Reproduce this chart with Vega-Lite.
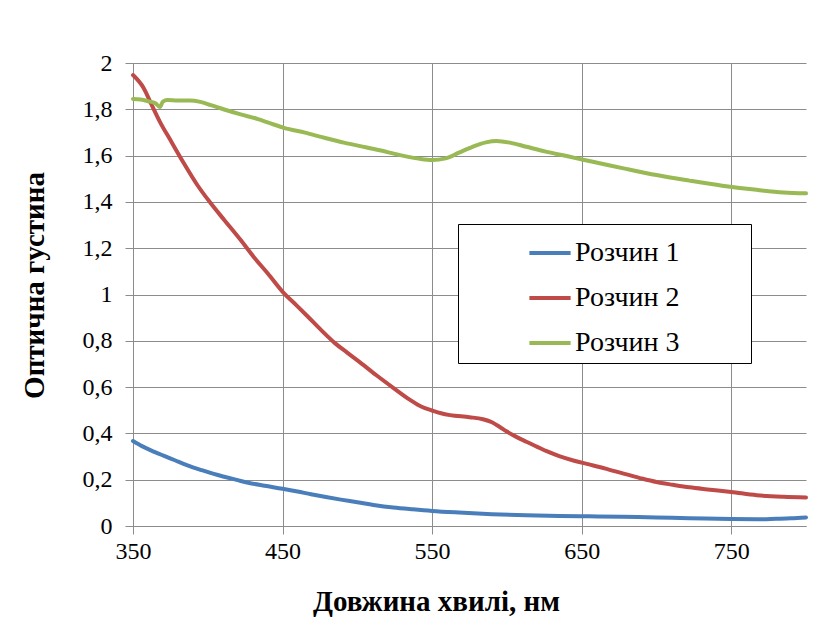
{
  "$schema": "https://vega.github.io/schema/vega-lite/v6.json",
  "width": 673,
  "height": 463,
  "autosize": {"type": "none"},
  "padding": {"left": 133, "top": 63, "right": 31, "bottom": 91},
  "background": "white",
  "config": {
    "view": {"stroke": null},
    "font": "serif"
  },
  "data": {
    "values": [
      {"wl": 350, "s": "Розчин 1", "v": 0.367},
      {"wl": 356, "s": "Розчин 1", "v": 0.345},
      {"wl": 362, "s": "Розчин 1", "v": 0.327},
      {"wl": 370, "s": "Розчин 1", "v": 0.305},
      {"wl": 378, "s": "Розчин 1", "v": 0.284},
      {"wl": 386, "s": "Розчин 1", "v": 0.263},
      {"wl": 396, "s": "Розчин 1", "v": 0.241},
      {"wl": 404, "s": "Розчин 1", "v": 0.225},
      {"wl": 411, "s": "Розчин 1", "v": 0.213},
      {"wl": 420, "s": "Розчин 1", "v": 0.198},
      {"wl": 427, "s": "Розчин 1", "v": 0.187},
      {"wl": 438, "s": "Розчин 1", "v": 0.174},
      {"wl": 450, "s": "Розчин 1", "v": 0.161},
      {"wl": 460, "s": "Розчин 1", "v": 0.149},
      {"wl": 469, "s": "Розчин 1", "v": 0.137},
      {"wl": 479, "s": "Розчин 1", "v": 0.125},
      {"wl": 489, "s": "Розчин 1", "v": 0.114},
      {"wl": 500, "s": "Розчин 1", "v": 0.103},
      {"wl": 512, "s": "Розчин 1", "v": 0.090},
      {"wl": 524, "s": "Розчин 1", "v": 0.080},
      {"wl": 537, "s": "Розчин 1", "v": 0.072},
      {"wl": 550, "s": "Розчин 1", "v": 0.065},
      {"wl": 568, "s": "Розчин 1", "v": 0.058},
      {"wl": 590, "s": "Розчин 1", "v": 0.051},
      {"wl": 613, "s": "Розчин 1", "v": 0.046},
      {"wl": 635, "s": "Розчин 1", "v": 0.043},
      {"wl": 655, "s": "Розчин 1", "v": 0.042},
      {"wl": 677, "s": "Розчин 1", "v": 0.040},
      {"wl": 700, "s": "Розчин 1", "v": 0.037},
      {"wl": 722, "s": "Розчин 1", "v": 0.034},
      {"wl": 750, "s": "Розчин 1", "v": 0.030},
      {"wl": 767, "s": "Розчин 1", "v": 0.029},
      {"wl": 780, "s": "Розчин 1", "v": 0.031},
      {"wl": 790, "s": "Розчин 1", "v": 0.033},
      {"wl": 800, "s": "Розчин 1", "v": 0.037},

      {"wl": 350, "s": "Розчин 2", "v": 1.948},
      {"wl": 357, "s": "Розчин 2", "v": 1.893},
      {"wl": 362, "s": "Розчин 2", "v": 1.826},
      {"wl": 368, "s": "Розчин 2", "v": 1.746},
      {"wl": 375, "s": "Розчин 2", "v": 1.667},
      {"wl": 384, "s": "Розчин 2", "v": 1.567},
      {"wl": 393, "s": "Розчин 2", "v": 1.473},
      {"wl": 402, "s": "Розчин 2", "v": 1.394},
      {"wl": 411, "s": "Розчин 2", "v": 1.322},
      {"wl": 422, "s": "Розчин 2", "v": 1.235},
      {"wl": 431, "s": "Розчин 2", "v": 1.160},
      {"wl": 440, "s": "Розчин 2", "v": 1.092},
      {"wl": 451, "s": "Розчин 2", "v": 1.005},
      {"wl": 459, "s": "Розчин 2", "v": 0.955},
      {"wl": 467, "s": "Розчин 2", "v": 0.904},
      {"wl": 476, "s": "Розчин 2", "v": 0.845},
      {"wl": 485, "s": "Розчин 2", "v": 0.790},
      {"wl": 493, "s": "Розчин 2", "v": 0.750},
      {"wl": 502, "s": "Розчин 2", "v": 0.706},
      {"wl": 513, "s": "Розчин 2", "v": 0.650},
      {"wl": 524, "s": "Розчин 2", "v": 0.597},
      {"wl": 535, "s": "Розчин 2", "v": 0.546},
      {"wl": 543, "s": "Розчин 2", "v": 0.515},
      {"wl": 550, "s": "Розчин 2", "v": 0.499},
      {"wl": 556, "s": "Розчин 2", "v": 0.487},
      {"wl": 562, "s": "Розчин 2", "v": 0.479},
      {"wl": 575, "s": "Розчин 2", "v": 0.470},
      {"wl": 584, "s": "Розчин 2", "v": 0.461},
      {"wl": 590, "s": "Розчин 2", "v": 0.448},
      {"wl": 595, "s": "Розчин 2", "v": 0.429},
      {"wl": 600, "s": "Розчин 2", "v": 0.408},
      {"wl": 606, "s": "Розчин 2", "v": 0.386},
      {"wl": 613, "s": "Розчин 2", "v": 0.364},
      {"wl": 620, "s": "Розчин 2", "v": 0.343},
      {"wl": 627, "s": "Розчин 2", "v": 0.322},
      {"wl": 635, "s": "Розчин 2", "v": 0.302},
      {"wl": 645, "s": "Розчин 2", "v": 0.282},
      {"wl": 655, "s": "Розчин 2", "v": 0.266},
      {"wl": 666, "s": "Розчин 2", "v": 0.248},
      {"wl": 678, "s": "Розчин 2", "v": 0.226},
      {"wl": 689, "s": "Розчин 2", "v": 0.207},
      {"wl": 700, "s": "Розчин 2", "v": 0.190},
      {"wl": 711, "s": "Розчин 2", "v": 0.178},
      {"wl": 722, "s": "Розчин 2", "v": 0.167},
      {"wl": 736, "s": "Розчин 2", "v": 0.157},
      {"wl": 750, "s": "Розчин 2", "v": 0.147},
      {"wl": 767, "s": "Розчин 2", "v": 0.133},
      {"wl": 785, "s": "Розчин 2", "v": 0.126},
      {"wl": 800, "s": "Розчин 2", "v": 0.123},

      {"wl": 350, "s": "Розчин 3", "v": 1.845},
      {"wl": 355, "s": "Розчин 3", "v": 1.842},
      {"wl": 360, "s": "Розчин 3", "v": 1.835},
      {"wl": 365, "s": "Розчин 3", "v": 1.826},
      {"wl": 368, "s": "Розчин 3", "v": 1.810},
      {"wl": 370, "s": "Розчин 3", "v": 1.833},
      {"wl": 373, "s": "Розчин 3", "v": 1.840},
      {"wl": 380, "s": "Розчин 3", "v": 1.838},
      {"wl": 388, "s": "Розчин 3", "v": 1.838},
      {"wl": 395, "s": "Розчин 3", "v": 1.832},
      {"wl": 402, "s": "Розчин 3", "v": 1.818},
      {"wl": 411, "s": "Розчин 3", "v": 1.799},
      {"wl": 422, "s": "Розчин 3", "v": 1.778},
      {"wl": 433, "s": "Розчин 3", "v": 1.759},
      {"wl": 442, "s": "Розчин 3", "v": 1.739},
      {"wl": 451, "s": "Розчин 3", "v": 1.720},
      {"wl": 465, "s": "Розчин 3", "v": 1.699},
      {"wl": 478, "s": "Розчин 3", "v": 1.677},
      {"wl": 491, "s": "Розчин 3", "v": 1.656},
      {"wl": 502, "s": "Розчин 3", "v": 1.641},
      {"wl": 515, "s": "Розчин 3", "v": 1.623},
      {"wl": 528, "s": "Розчин 3", "v": 1.603},
      {"wl": 541, "s": "Розчин 3", "v": 1.587},
      {"wl": 550, "s": "Розчин 3", "v": 1.581},
      {"wl": 559, "s": "Розчин 3", "v": 1.588},
      {"wl": 568, "s": "Розчин 3", "v": 1.613},
      {"wl": 577, "s": "Розчин 3", "v": 1.638},
      {"wl": 586, "s": "Розчин 3", "v": 1.657},
      {"wl": 593, "s": "Розчин 3", "v": 1.663},
      {"wl": 602, "s": "Розчин 3", "v": 1.656},
      {"wl": 613, "s": "Розчин 3", "v": 1.638},
      {"wl": 626, "s": "Розчин 3", "v": 1.617},
      {"wl": 640, "s": "Розчин 3", "v": 1.598},
      {"wl": 651, "s": "Розчин 3", "v": 1.582},
      {"wl": 662, "s": "Розчин 3", "v": 1.567},
      {"wl": 678, "s": "Розчин 3", "v": 1.545},
      {"wl": 700, "s": "Розчин 3", "v": 1.516},
      {"wl": 722, "s": "Розчин 3", "v": 1.492},
      {"wl": 744, "s": "Розчин 3", "v": 1.470},
      {"wl": 767, "s": "Розчин 3", "v": 1.452},
      {"wl": 785, "s": "Розчин 3", "v": 1.441},
      {"wl": 800, "s": "Розчин 3", "v": 1.437}
    ]
  },
  "mark": {"type": "line", "strokeWidth": 4, "interpolate": "monotone", "strokeCap": "round"},
  "encoding": {
    "x": {
      "field": "wl",
      "type": "quantitative",
      "scale": {"domain": [350, 800], "nice": false, "zero": false},
      "axis": {
        "title": "Довжина хвилі, нм",
        "values": [350, 450, 550, 650, 750],
        "grid": true,
        "gridColor": "#8c8c8c",
        "gridOpacity": 1,
        "gridWidth": 1,
        "domainColor": "#8c8c8c",
        "domainWidth": 1,
        "tickColor": "#8c8c8c",
        "tickSize": 8,
        "labelFlush": false,
        "labelFont": "serif",
        "labelFontSize": 24,
        "labelColor": "#000000",
        "labelPadding": 5,
        "titleFont": "serif",
        "titleFontSize": 29,
        "titleColor": "#000000",
        "titleX": 303,
        "titleY": 61,
        "titleBaseline": "top"
      }
    },
    "y": {
      "field": "v",
      "type": "quantitative",
      "scale": {"domain": [0, 2], "nice": false},
      "axis": {
        "title": "Оптична густина",
        "values": [0, 0.2, 0.4, 0.6, 0.8, 1, 1.2, 1.4, 1.6, 1.8, 2],
        "labelExpr": "replace(format(datum.value, '~g'), '.', ',')",
        "grid": true,
        "gridColor": "#8c8c8c",
        "gridOpacity": 1,
        "gridWidth": 1,
        "domainColor": "#8c8c8c",
        "domainWidth": 1,
        "tickColor": "#8c8c8c",
        "tickSize": 8,
        "labelFlush": false,
        "labelFont": "serif",
        "labelFontSize": 24,
        "labelColor": "#000000",
        "labelPadding": 13,
        "titleFont": "serif",
        "titleFontSize": 29,
        "titleColor": "#000000",
        "titleX": -99,
        "titleY": 222,
        "titleBaseline": "middle",
        "titleAngle": -90
      }
    },
    "color": {
      "field": "s",
      "type": "nominal",
      "scale": {
        "domain": ["Розчин 1", "Розчин 2", "Розчин 3"],
        "range": ["#4a7ebb", "#be4b48", "#98b954"]
      },
      "legend": {
        "title": " ",
        "titleOrient": "right",
        "titlePadding": 66,
        "orient": "none",
        "legendX": 325,
        "legendY": 161,
        "strokeColor": "black",
        "fillColor": "white",
        "padding": 6,
        "symbolType": "stroke",
        "symbolSize": 1700,
        "symbolStrokeWidth": 4,
        "symbolOffset": 63,
        "labelOffset": 2,
        "labelFont": "serif",
        "labelFontSize": 28,
        "labelColor": "#000000",
        "rowPadding": 8
      }
    }
  }
}
